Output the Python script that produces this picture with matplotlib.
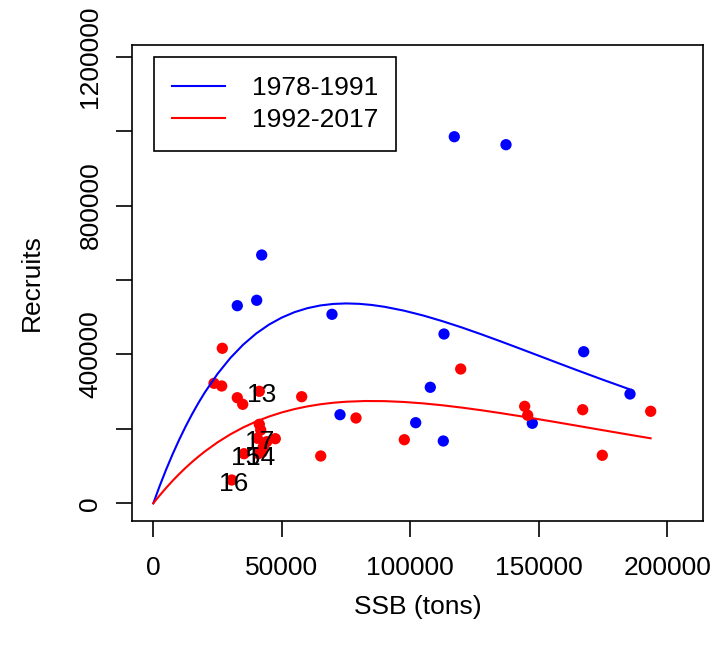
import matplotlib
matplotlib.use('Agg')
import matplotlib.pyplot as plt

plt.rcParams['font.family'] = ['Liberation Sans', 'DejaVu Sans']

# 1978-1991 observations (SSB in tons, recruits)
blue_ssb = [117120, 137240, 42180, 32680, 40230, 69530, 113110,
            167470, 185490, 107780, 72650, 102100, 147470, 112840]
blue_rec = [985000, 963600, 667200, 531000, 545500, 507800, 454900,
            407300, 293700, 311700, 238100, 216600, 215000, 167400]

# 1992-2017 observations, last five are 2013-2017
red_ssb = [26850, 23620, 26610, 32680, 34790, 57740, 119610, 144510, 145680,
           167080, 193540, 174710, 97670, 78870, 65140, 47470, 41250, 41790,
           42800, 44120, 42300,
           41250, 40860, 35290, 30510, 40470]
red_rec = [416500, 322400, 315200, 283700, 266000, 286400, 360900, 260600, 236500,
           251500, 247200, 129000, 170900, 229200, 127100, 173600, 212300, 196900,
           152100, 165500, 137000,
           301000, 133300, 133300, 62600, 174700]
red_labels = ['13', '14', '15', '16', '17']

# fitted stock-recruit curves
blue_fit_ssb = [0, 2500, 5000, 7500, 10000, 12500, 15000, 17500, 20000, 25000,
                30000, 35000, 40000, 45000, 50000, 55000, 60000, 65000, 70000,
                75000, 80000, 85000, 90000, 97500, 105000, 112500, 120000,
                127500, 135000, 142500, 150000, 157500, 165000, 175000, 185000]
blue_fit_rec = [0, 46915, 90760, 131700, 169860, 205390, 238410, 269040, 297450, 347890,
                390670, 426440, 456060, 480060, 499100, 513730, 524380, 531590, 535680,
                537040, 536010, 532910, 527970, 517690, 504670, 489380, 472540,
                454430, 435540, 416110, 396490, 376800, 357330, 331830, 307110]
red_fit_ssb = [0, 2500, 5000, 7500, 10000, 12500, 15000, 17500, 20000, 25000,
               30000, 35000, 40000, 45000, 50000, 55000, 60000, 65000, 70000,
               75000, 82500, 90000, 97500, 105000, 112500, 120000, 127500,
               135000, 142500, 150000, 157500, 165000, 172500, 180000, 187000, 193500]
red_fit_rec = [0, 21350, 41460, 60380, 78180, 94890, 110570, 125260, 139000, 163820,
               185360, 203900, 219720, 233060, 244170, 253240, 260470, 266060, 270170,
               272930, 274860, 274520, 272280, 268480, 263350, 257190, 250180,
               242530, 234380, 225880, 217150, 208280, 199300, 190460, 182210, 174690]

fig = plt.figure(figsize=(7.12, 6.48), dpi=100)
ax = fig.add_axes([132.3 / 712, 1 - 520.7 / 648, 571 / 712, 476 / 648])

ax.scatter(blue_ssb, blue_rec, s=66, color='#0000FF', edgecolors='none', zorder=3)
ax.scatter(red_ssb, red_rec, s=66, color='#FF0000', edgecolors='none', zorder=3)
ax.plot(blue_fit_ssb, blue_fit_rec, color='#0000FF', lw=1.5, label='1978-1991', zorder=4)
ax.plot(red_fit_ssb, red_fit_rec, color='#FF0000', lw=1.5, label='1992-2017', zorder=4)

n = len(red_labels)
for lab, x, y in zip(red_labels, red_ssb[-n:], red_rec[-n:]):
    ax.annotate(lab, (x, y), xytext=(1.5, -3), textcoords='offset points',
                ha='center', va='center', fontsize=19, zorder=5)

ax.set_xlim(-8171, 214008)
ax.set_ylim(-46750, 1232250)
ax.set_xticks([0, 50000, 100000, 150000, 200000])
ax.set_xticklabels(['0', '50000', '100000', '150000', '200000'])
ax.set_yticks([0, 200000, 400000, 600000, 800000, 1000000, 1200000])
ax.set_yticklabels(['0', '', '400000', '', '800000', '', '1200000'],
                   rotation=90, va='center')
ax.tick_params(length=11.5, width=1.2, labelsize=19, color='black')
ax.tick_params(axis='x', pad=14)
ax.tick_params(axis='y', pad=10)
for s in ax.spines.values():
    s.set_linewidth(1.2)

ax.set_xlabel('SSB (tons)', fontsize=19, labelpad=11)
ax.set_ylabel('Recruits', fontsize=19, labelpad=25)

leg = ax.legend(loc='upper left', bbox_to_anchor=(0.038, 0.9735), borderaxespad=0,
                fontsize=19, frameon=True, fancybox=False, edgecolor='black',
                framealpha=1, borderpad=0.7, handlelength=2.0, handletextpad=1.0,
                labelspacing=0.33)
leg.get_frame().set_linewidth(1.2)

fig.savefig('out.png', dpi=100)
